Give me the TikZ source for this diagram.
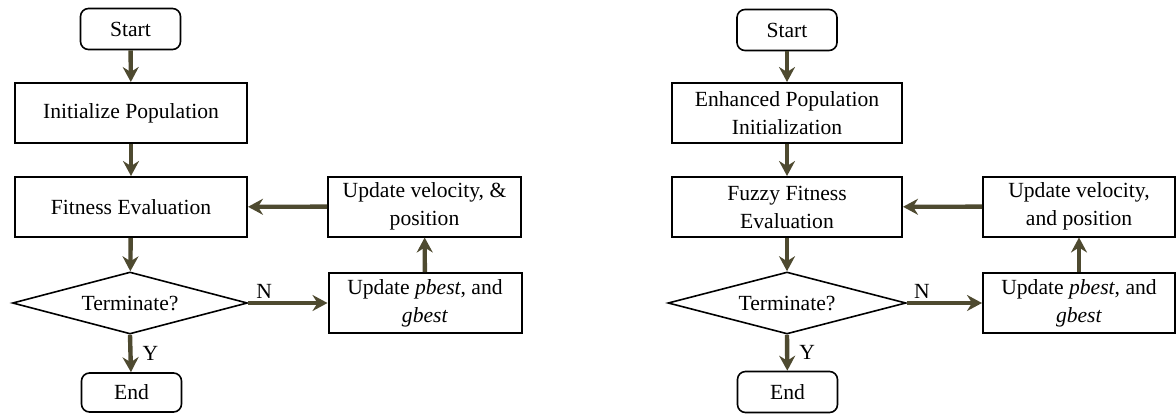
\documentclass[tikz,border=0pt]{standalone}
\usepackage{fontspec}
\setmainfont{Liberation Serif}
\usetikzlibrary{shapes.geometric}
\usetikzlibrary{arrows.meta}

\definecolor{flowolive}{RGB}{78,74,48}

\tikzset{
  chart/.style={font=\fontsize{10.8}{14}\selectfont, inner sep=1pt, align=center},
  terminal/.style={chart, draw, line width=0.8pt, rounded corners=4pt, minimum width=50pt, minimum height=20.5pt},
  process/.style={chart, draw, line width=1pt, minimum width=#1, minimum height=30pt},
  process/.default=116pt,
  decision/.style={chart, draw, line width=0.8pt, diamond, aspect=3.8, inner sep=0pt, minimum width=#1, minimum height=31pt},
  decision/.default=117.5pt,
  flow/.style={draw=flowolive, line width=2.2pt, -{Stealth[length=7.5pt, width=8pt, inset=2.5pt]}},
  answer/.style={font=\fontsize{10.8}{14}\selectfont, inner sep=1pt}
}

\begin{document}
\begin{tikzpicture}[x=0.5pt, y=-0.5pt]
\useasboundingbox (0, 0) rectangle (1176, 413);

% plain PSO
\node[terminal] (start1) at (130.5, 29) {Start};
\node[process] (init1) at (131, 113) {Initialize Population};
\node[process] (fit1) at (131, 207) {Fitness Evaluation};
\node[decision] (term1) at (130, 303) {Terminate?};
\node[terminal, minimum height=19.5pt] (end1) at (131.5, 392.5) {End};
\node[process=96.5pt] (vel1) at (424.5, 206.5) {Update velocity, \&\\position};
\node[process=96.5pt] (pb1) at (425, 303) {Update \textit{pbest}, and\\\textit{gbest}};

\draw[flow] (start1) -- (init1);
\draw[flow] (init1) -- (fit1);
\draw[flow] (fit1) -- (term1);
\draw[flow] (term1.south) -- node[answer, right, xshift=4pt] {Y} (end1);
\draw[flow] (term1.east) -- node[answer, above, pos=0.2] {N} (pb1);
\draw[flow] (pb1) -- (vel1);
\draw[flow] (vel1) -- (fit1);

% enhanced PSO
\node[terminal] (start2) at (787, 30) {Start};
\node[process=115pt] (enh2) at (787, 113) {Enhanced Population\\Initialization};
\node[process=115pt] (fuz2) at (787, 207) {Fuzzy Fitness\\Evaluation};
\node[decision=119pt] (term2) at (787, 303) {Terminate?};
\node[terminal] (end2) at (787.5, 392) {End};
\node[process=96pt] (vel2) at (1079, 206.5) {Update velocity,\\and position};
\node[process=96pt] (pb2) at (1079, 303) {Update \textit{pbest}, and\\\textit{gbest}};

\draw[flow] (start2) -- (enh2);
\draw[flow] (enh2) -- (fuz2);
\draw[flow] (fuz2) -- (term2);
\draw[flow] (term2.south) -- node[answer, right, xshift=4pt] {Y} (end2);
\draw[flow] (term2.east) -- node[answer, above, pos=0.2] {N} (pb2);
\draw[flow] (pb2) -- (vel2);
\draw[flow] (vel2) -- (fuz2);

\end{tikzpicture}
\end{document}
